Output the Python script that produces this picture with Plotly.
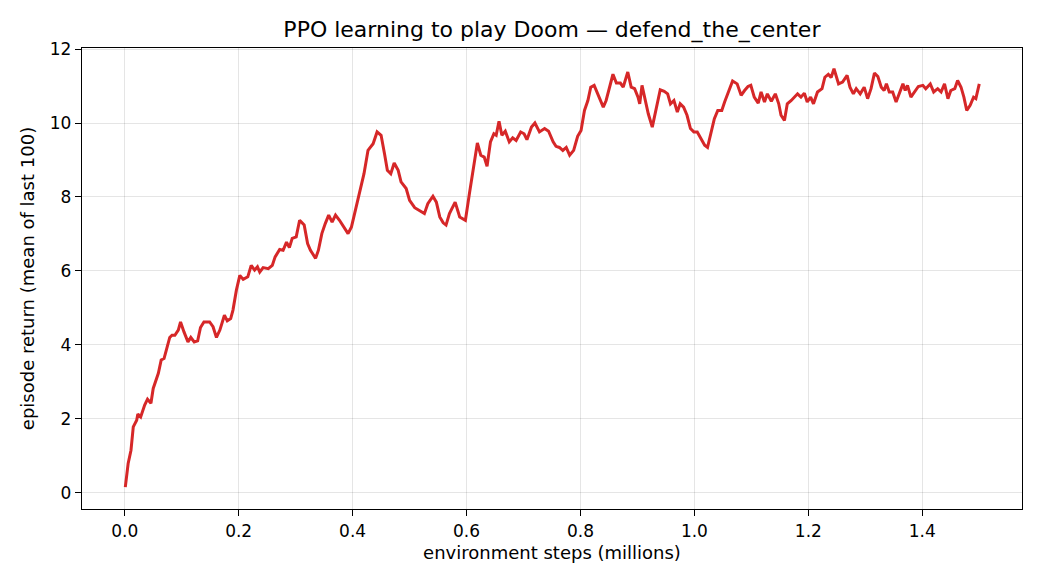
import plotly.graph_objects as go

# environment steps (millions) and mean return of last 100 episodes
steps = [
    0.001, 0.006, 0.011, 0.015, 0.021, 0.023, 0.028, 0.035, 0.040, 0.046,
    0.050, 0.059, 0.064, 0.069, 0.073, 0.079, 0.083, 0.088, 0.094, 0.098,
    0.104, 0.111, 0.116, 0.122, 0.128, 0.133, 0.139, 0.149, 0.155, 0.161,
    0.167, 0.175, 0.180, 0.186, 0.190, 0.196, 0.202, 0.208, 0.216, 0.222,
    0.228, 0.233, 0.237, 0.243, 0.252, 0.259, 0.264, 0.272, 0.278, 0.284,
    0.289, 0.294, 0.301, 0.307, 0.315, 0.321, 0.326, 0.335, 0.340, 0.346,
    0.352, 0.358, 0.364, 0.370, 0.377, 0.385, 0.392, 0.398, 0.405, 0.412,
    0.420, 0.427, 0.436, 0.443, 0.450, 0.456, 0.461, 0.467, 0.473, 0.480,
    0.485, 0.494, 0.500, 0.509, 0.518, 0.526, 0.532, 0.541, 0.547, 0.553,
    0.559, 0.564, 0.570, 0.580, 0.588, 0.598, 0.605, 0.612, 0.619, 0.625,
    0.631, 0.636, 0.642, 0.648, 0.652, 0.657, 0.662, 0.668, 0.675, 0.681,
    0.687, 0.695, 0.701, 0.706, 0.714, 0.720, 0.728, 0.737, 0.744, 0.752,
    0.757, 0.763, 0.769, 0.775, 0.781, 0.788, 0.795, 0.801, 0.807, 0.813,
    0.818, 0.824, 0.830, 0.835, 0.840, 0.845, 0.851, 0.857, 0.863, 0.870,
    0.875, 0.879, 0.883, 0.889, 0.895, 0.901, 0.904, 0.908, 0.913, 0.919,
    0.926, 0.933, 0.940, 0.947, 0.953, 0.958, 0.964, 0.970, 0.975, 0.981,
    0.987, 0.993, 0.999, 1.005, 1.011, 1.018, 1.023, 1.029, 1.035, 1.041,
    1.048, 1.053, 1.060, 1.067, 1.075, 1.082, 1.088, 1.094, 1.099, 1.105,
    1.112, 1.117, 1.123, 1.128, 1.135, 1.142, 1.148, 1.152, 1.158, 1.163,
    1.170, 1.175, 1.181, 1.187, 1.193, 1.198, 1.204, 1.209, 1.216, 1.224,
    1.229, 1.235, 1.240, 1.245, 1.249, 1.253, 1.260, 1.268, 1.273, 1.279,
    1.284, 1.291, 1.298, 1.304, 1.310, 1.316, 1.322, 1.328, 1.333, 1.337,
    1.342, 1.348, 1.354, 1.360, 1.366, 1.370, 1.374, 1.380, 1.386, 1.393,
    1.401, 1.406, 1.414, 1.420, 1.427, 1.433, 1.439, 1.445, 1.450, 1.457,
    1.462, 1.468, 1.473, 1.478, 1.484, 1.490, 1.494, 1.500,
]
returns = [
    0.15, 0.79, 1.15, 1.78, 1.96, 2.13, 2.05, 2.37, 2.53, 2.42,
    2.82, 3.23, 3.59, 3.63, 3.86, 4.20, 4.26, 4.26, 4.40, 4.62,
    4.35, 4.08, 4.20, 4.08, 4.11, 4.47, 4.62, 4.62, 4.49, 4.20,
    4.40, 4.80, 4.65, 4.71, 4.94, 5.48, 5.88, 5.77, 5.84, 6.15,
    6.02, 6.11, 5.97, 6.09, 6.06, 6.15, 6.38, 6.58, 6.56, 6.78,
    6.63, 6.88, 6.92, 7.37, 7.24, 6.74, 6.56, 6.34, 6.56, 7.01,
    7.28, 7.51, 7.32, 7.51, 7.37, 7.19, 7.01, 7.19, 7.64, 8.09,
    8.63, 9.26, 9.44, 9.76, 9.67, 9.17, 8.72, 8.63, 8.92, 8.72,
    8.41, 8.23, 7.91, 7.71, 7.62, 7.55, 7.82, 8.02, 7.86, 7.46,
    7.30, 7.24, 7.55, 7.86, 7.46, 7.37, 8.09, 8.81, 9.46, 9.13,
    9.08, 8.83, 9.49, 9.71, 9.67, 10.05, 9.67, 9.78, 9.49, 9.60,
    9.53, 9.76, 9.71, 9.55, 9.89, 10.00, 9.76, 9.85, 9.78, 9.49,
    9.37, 9.34, 9.26, 9.34, 9.13, 9.26, 9.64, 9.80, 10.34, 10.61,
    10.97, 11.02, 10.79, 10.61, 10.43, 10.61, 10.97, 11.32, 11.08, 11.08,
    10.97, 11.20, 11.38, 10.97, 10.93, 10.70, 10.52, 11.02, 10.70, 10.25,
    9.89, 10.43, 10.90, 10.86, 10.79, 10.52, 10.61, 10.30, 10.52, 10.43,
    10.21, 9.85, 9.76, 9.76, 9.58, 9.40, 9.34, 9.71, 10.12, 10.34,
    10.34, 10.57, 10.84, 11.14, 11.06, 10.75, 10.88, 10.99, 11.02, 10.70,
    10.54, 10.84, 10.57, 10.79, 10.59, 10.79, 10.52, 10.21, 10.07, 10.52,
    10.61, 10.70, 10.79, 10.70, 10.81, 10.57, 10.70, 10.52, 10.84, 10.93,
    11.24, 11.32, 11.23, 11.47, 11.29, 11.06, 11.11, 11.29, 10.97, 10.79,
    10.93, 10.79, 10.97, 10.66, 10.93, 11.35, 11.26, 10.97, 10.88, 11.06,
    10.84, 10.84, 10.57, 10.79, 11.06, 10.88, 11.02, 10.70, 10.84, 10.99,
    11.02, 10.93, 11.06, 10.84, 10.93, 10.84, 11.06, 10.66, 10.88, 10.93,
    11.15, 10.97, 10.70, 10.34, 10.48, 10.70, 10.66, 11.06,
]

x_ticks = [0.0, 0.2, 0.4, 0.6, 0.8, 1.0, 1.2, 1.4]
y_ticks = [0, 2, 4, 6, 8, 10, 12]

fig = go.Figure()
fig.add_trace(go.Scatter(
    x=steps, y=returns, mode="lines",
    line=dict(color="#d62728", width=3),
    showlegend=False,
))

axis_common = dict(
    showline=True, linecolor="black", linewidth=1.3, mirror=True,
    ticks="outside", ticklen=6, tickwidth=1.3, tickcolor="black",
    showgrid=True, gridcolor="rgba(0,0,0,0.1)", gridwidth=1,
    zeroline=False,
    tickfont=dict(family="DejaVu Sans", size=17, color="black"),
)

# page body adds an 8px offset, so margins are shifted to compensate
fig.update_layout(
    width=1040, height=585,
    margin=dict(l=74, r=26, t=40, b=84),
    paper_bgcolor="white", plot_bgcolor="white",
    font=dict(family="DejaVu Sans", color="black"),
    title=dict(text="PPO learning to play Doom — defend_the_center",
               x=0.523, xanchor="center", y=0.964, yanchor="middle",
               font=dict(size=22, family="DejaVu Sans", color="black")),
    xaxis=dict(axis_common, range=[-0.075, 1.575], tickvals=x_ticks,
               tickformat=".1f",
               title=dict(text="environment steps (millions)", standoff=6,
                          font=dict(size=18, family="DejaVu Sans"))),
    yaxis=dict(axis_common, range=[-0.44, 12.03], tickvals=y_ticks,
               title=dict(text="episode return (mean of last 100)", standoff=10,
                          font=dict(size=18, family="DejaVu Sans"))),
)

fig.write_html("out.html")
